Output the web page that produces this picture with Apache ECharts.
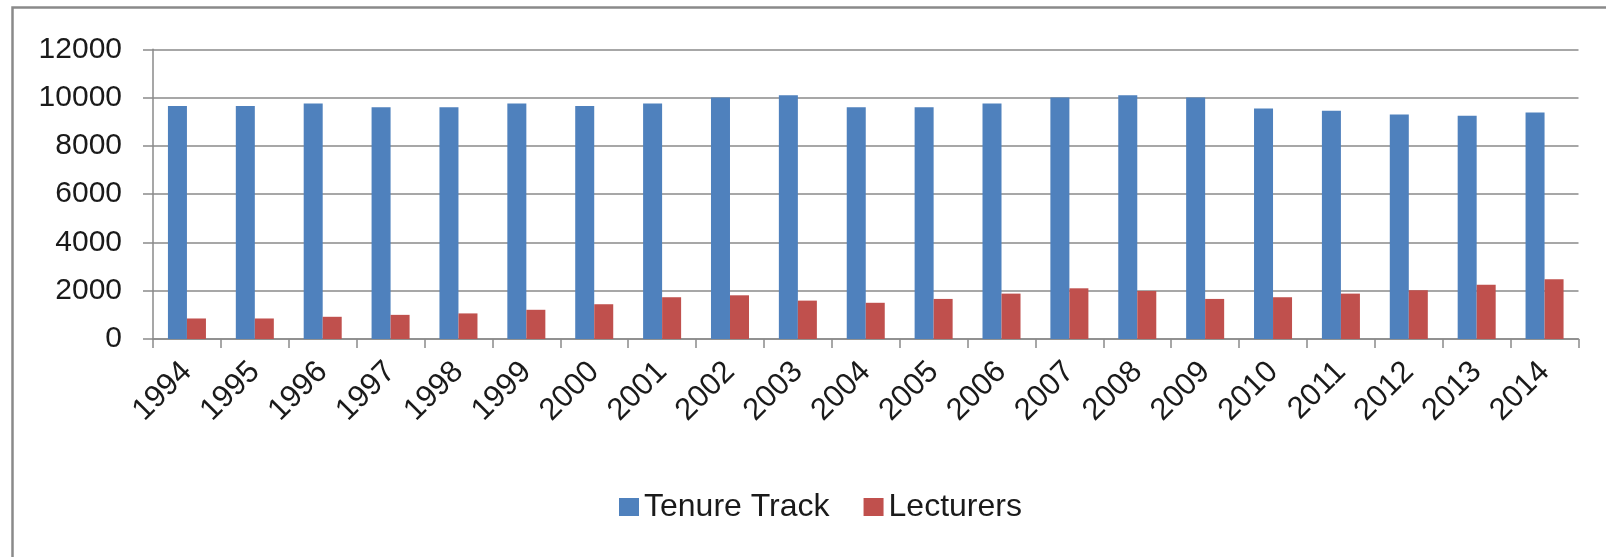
<!DOCTYPE html>
<html>
<head>
<meta charset="utf-8">
<script src="https://cdn.jsdelivr.net/npm/echarts@6/dist/echarts.min.js"></script>
<style>
  html, body { margin: 0; padding: 0; background: #fff; }
  #main { width: 1606px; height: 557px; }
</style>
</head>
<body>
<div id="main"></div>
<script>
var years = ['1994', '1995', '1996', '1997', '1998', '1999', '2000', '2001', '2002', '2003', '2004',
    '2005', '2006', '2007', '2008', '2009', '2010', '2011', '2012', '2013', '2014'];
var tenureTrack = [9650, 9650, 9750, 9600, 9600, 9750, 9650, 9750, 10000, 10100, 9600,
    9600, 9750, 10000, 10100, 10000, 9550, 9450, 9300, 9250, 9380];
var lecturers = [850, 850, 920, 1000, 1060, 1210, 1440, 1730, 1810, 1590, 1500,
    1660, 1880, 2100, 1990, 1660, 1730, 1880, 2020, 2250, 2470];

var chart = echarts.init(document.getElementById('main'));
var font = '"Liberation Sans", Arial, sans-serif';

var option = {
    backgroundColor: '#fff',
    animation: false,
    textStyle: { fontFamily: font },
    grid: { left: 153, right: 27.5, top: 49.3, bottom: 218 },
    // frame round the chart, only left and top edges are visible
    graphic: [{
        type: 'rect',
        shape: { x: 12.5, y: 7.5, width: 1700, height: 700 },
        style: { fill: 'none', stroke: '#8a8a8a', lineWidth: 2.5 },
        silent: true
    }],
    legend: {
        left: 614,
        top: 486,
        itemWidth: 20,
        itemHeight: 18,
        itemGap: 34,
        icon: 'rect',
        textStyle: { fontSize: 32, color: '#1a1a1a', fontFamily: font },
        data: ['Tenure Track', 'Lecturers']
    },
    xAxis: {
        type: 'category',
        data: years,
        axisLine: { lineStyle: { color: '#8a8a8a', width: 1.5 } },
        axisTick: { show: true, length: 9, lineStyle: { color: '#8a8a8a', width: 1.5 } },
        axisLabel: { rotate: 45, margin: 28, fontSize: 31, color: '#1a1a1a', fontFamily: font }
    },
    yAxis: {
        type: 'value',
        min: 0,
        max: 12000,
        interval: 2000,
        axisLine: { show: true, lineStyle: { color: '#8a8a8a', width: 1.5 } },
        axisTick: { show: true, inside: false, length: 10, lineStyle: { color: '#8a8a8a', width: 1.5 } },
        axisLabel: {
            margin: 31, fontSize: 30, color: '#1a1a1a', fontFamily: font,
            formatter: function (v) { return String(v); }
        },
        splitLine: { lineStyle: { color: '#8a8a8a', width: 1.5 } }
    },
    series: [
        {
            name: 'Tenure Track',
            type: 'bar',
            data: tenureTrack,
            barGap: '0%',
            barCategoryGap: '44%',
            itemStyle: { color: '#4F81BD' }
        },
        {
            name: 'Lecturers',
            type: 'bar',
            data: lecturers,
            itemStyle: { color: '#C0504D' }
        }
    ]
};

chart.setOption(option);
</script>
</body>
</html>
